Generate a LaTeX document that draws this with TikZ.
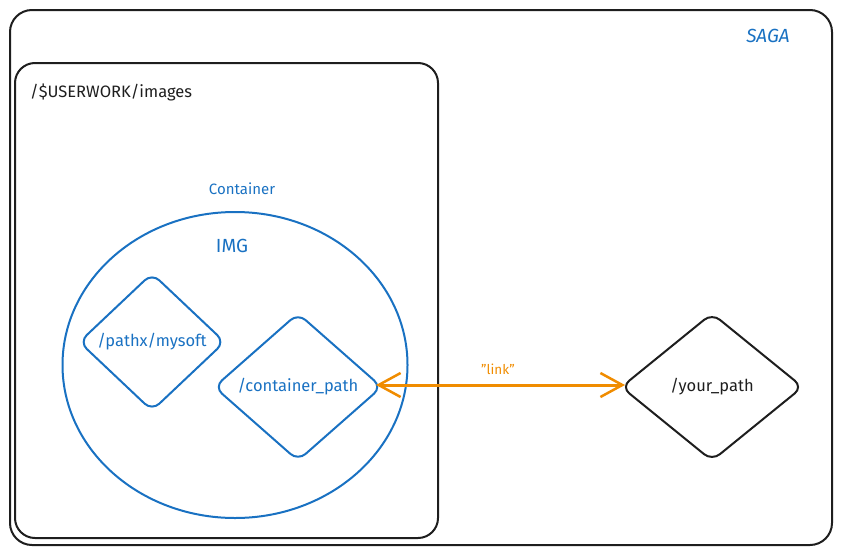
\documentclass[tikz,border=0pt]{standalone}
\usepackage{fontspec}
\setmainfont{Fira Sans}
\usetikzlibrary{shapes.geometric,arrows.meta}
\definecolor{exblue}{HTML}{1971C2}
\definecolor{exblack}{HTML}{1E1E1E}
\definecolor{exorange}{HTML}{F08C00}
\tikzset{
  frame/.style={draw=exblack, line width=2pt, rounded corners=22pt},
  bluedia/.style={shape=diamond, draw=exblue, line width=2pt, rounded corners=10pt, inner sep=0pt},
  blackdia/.style={shape=diamond, draw=exblack, line width=2pt, rounded corners=10pt, inner sep=0pt},
  bluetxt/.style={text=exblue, font=\fontsize{16.5}{18}\selectfont, inner sep=0pt},
  blacktxt/.style={text=exblack, font=\fontsize{16.5}{18}\selectfont, inner sep=0pt},
  linkarrow/.style={draw=exorange, line width=3pt, {Straight Barb[length=22pt,width=24pt,line width=2.5pt]}-{Straight Barb[length=22pt,width=24pt,line width=2.5pt]}},
}
\begin{document}
\begin{tikzpicture}[x=1pt,y=-1pt]
\useasboundingbox (0,0) rectangle (842,554);
% outer SAGA frame
\draw[frame] (10,10) rectangle (832,545);
\node[text=exblue, font=\fontsize{19}{21}\selectfont\itshape, inner sep=0pt] (saga) at (768,36) {SAGA};
% inner images frame
\draw[frame, rounded corners=20pt] (15,63) rectangle (438,538);
\node[blacktxt, anchor=west] (uw) at (30,92) {/\$USERWORK/images};
% container ellipse
\node[bluetxt, font=\fontsize{15}{17}\selectfont] (ctitle) at (242,189) {Container};
\node[shape=ellipse, draw=exblue, line width=2pt, minimum width=345pt, minimum height=306pt, inner sep=0pt] (img) at (235,365) {};
\node[bluetxt, font=\fontsize{19}{21}\selectfont] (imgt) at (232,246) {IMG};
% diamonds
\node[bluedia, minimum width=146pt, minimum height=138pt] (ps) at (152,342) {};
\node[bluetxt] at (ps) {/pathx/mysoft};
\node[bluedia, minimum width=168pt, minimum height=148pt] (cp) at (298,387) {};
\node[bluetxt] at (cp) {/container\_path};
\node[blackdia, minimum width=182pt, minimum height=148pt] (yp) at (712,387) {};
\node[blacktxt] at (yp) {/your\_path};
% link
\draw[linkarrow, shorten <=-7pt, shorten >=-5pt] ([yshift=2pt]cp.east) -- ([yshift=2pt]yp.west);
\node[text=exorange, font=\fontsize{13.5}{15}\selectfont, inner sep=0pt] (lk) at (498,369) {"link"};
\end{tikzpicture}
\end{document}
